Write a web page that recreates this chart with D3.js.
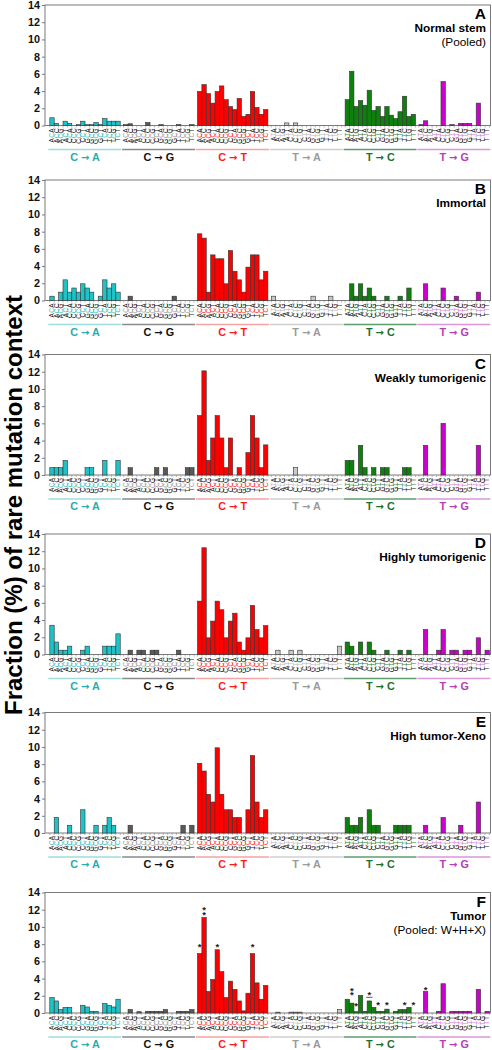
<!DOCTYPE html>
<html><head><meta charset="utf-8">
<script src="https://cdn.jsdelivr.net/npm/d3@7"></script>
<style>
body{margin:0;background:#fff}
svg{display:block}
text{font-family:"Liberation Sans",Arial,Helvetica,sans-serif}
</style>
</head><body>
<svg id="chart" width="492" height="1050"></svg>
<script>
// ---------------- data ----------------
const mutationTypes = ["C → A", "C → G", "C → T", "T → A", "T → C", "T → G"];
const refBase = ["C", "C", "C", "T", "T", "T"];
const flankBases = ["A", "C", "G", "T"];
const yTicks = [0, 2, 4, 6, 8, 10, 12, 14];
const panelLetters = ["A", "B", "C", "D", "E", "F"];
const panelTitles = ["Normal stem", "Immortal", "Weakly tumorigenic", "Highly tumorigenic", "High tumor-Xeno", "Tumor"];
const panelNotes = ["(Pooled)", "", "", "", "", "(Pooled: W+H+X)"];
const yTitle = "Fraction (%) of rare mutation context";

// values: one list of 16 contexts per mutation type (5' base AAAA CCCC GGGG TTTT, 3' base ACGT repeated)
const normalStem = [
  [0.9,0.25,0,0.5,0.25,0,0.1,0.5,0.1,0.1,0.35,0.1,0.8,0.5,0.5,0.5],
  [0.1,0.2,0,0,0,0.35,0,0,0.1,0,0,0,0.1,0,0,0.1],
  [3.95,4.75,3.7,2.6,3.95,4.6,3.0,2.2,1.85,3.15,1.05,1.3,3.95,2.1,1.3,1.85],
  [0,0,0,0.3,0,0.3,0,0,0,0,0,0,0,0,0,0],
  [3.0,6.3,2.2,2.9,2.35,4.1,1.75,2.2,1.05,2.2,1.2,0.8,1.6,3.4,1.05,1.3],
  [0.1,0.55,0,0,0,5.1,0,0.1,0,0.25,0.25,0.25,0,2.6,0,0]
];
const immortal = [
  [0.5,0,0.97,2.4,0.97,1.45,0.97,1.94,1.45,0.97,0,0.5,2.4,1.45,1.94,0.97],
  [0,0.5,0,0,0,0,0,0,0,0,0,0.5,0,0,0,0],
  [7.75,7.25,0.97,5.3,4.85,4.85,1.94,5.8,3.4,2.4,0.97,3.88,5.3,5.3,2.4,3.4],
  [0.5,0,0,0,0,0,0,0,0,0.5,0,0,0,0.5,0,0],
  [0,1.94,0.5,1.94,0.5,1.45,0.5,0,0,0.5,0,0,0.5,0,1.45,0],
  [0,1.94,0,0,0,1.45,0,0,0.5,0,0,0,0,0.97,0,0]
];
const weaklyTumorigenic = [
  [0.85,0.85,0.85,1.7,0,0,0,0,0.85,0.85,0,0,1.7,0,0,1.7],
  [0,0.85,0,0,0,0,0,0.85,0,0.85,0,0,0,0,0.85,0.85],
  [6.9,12.1,1.7,4.3,6.9,4.3,0.85,4.3,0,0.85,0,2.6,6.9,4.3,0.85,3.5],
  [0,0,0,0,0,0.85,0,0,0,0,0,0,0,0,0,0],
  [1.7,1.7,0,3.45,0.85,0,0.85,0,0.85,0.85,0,0,0,0.85,0.85,0],
  [0,3.45,0,0,0,6.0,0,0,0,0,0,0,0,3.45,0,0]
];
const highlyTumorigenic = [
  [3.4,1.45,0.5,0.5,0.97,0,0,0.5,0.97,0,0,0,0.97,0.97,0.97,2.4],
  [0,0.5,0,0.5,0.5,0,0.5,0.5,0,0,0,0,0.5,0,0,0],
  [6.2,12.4,1.94,3.88,6.2,5.2,1.94,3.88,4.8,1.45,0.5,1.94,5.7,2.9,1.94,3.35],
  [0,0.5,0,0,0.5,0,0.5,0,0,0,0,0,0,0,0,0.97],
  [1.45,0.97,0,1.45,0,1.45,0.5,0,0,0.5,0,0,0.5,0,0.5,0],
  [0,2.9,0,0,0.5,2.9,0,0.5,0.5,0,0.5,0.5,0,1.94,0,0.5]
];
const highTumorXeno = [
  [0,1.8,0,0,0.9,0,0,2.7,0,0,0.9,0,0.9,1.8,0.9,0],
  [0,0.9,0,0,0,0,0,0,0,0,0,0,0,0.9,0,0.9],
  [8.1,7.2,4.5,3.6,9.9,4.5,2.7,2.7,1.8,1.8,0,2.7,9.0,3.6,1.8,2.7],
  [0,0,0,0,0,0,0,0,0,0,0,0,0,0,0,0],
  [1.8,0.9,0.9,1.8,0,2.7,0.9,0.9,0,0,0,0.9,0.9,0.9,0.9,0],
  [0,0.9,0,0,0,1.8,0,0,0,0.9,0,0,0,3.6,0,0]
];
const tumorPooled = [
  [1.8,1.4,0.4,0.65,0.65,0,0,0.9,0.7,0.2,0.2,0,1.1,0.9,0.7,1.6],
  [0,0.4,0,0.15,0,0.2,0.2,0.2,0.2,0.4,0,0,0.2,0.2,0.2,0.4],
  [6.9,11.1,2.5,3.9,7.35,4.8,1.8,3.7,2.75,1.4,0.25,2.3,6.9,3.5,1.6,3.2],
  [0,0.1,0,0,0.1,0.1,0.1,0,0,0,0,0,0,0,0,0.4],
  [1.6,1.15,0.15,2.05,0.2,1.4,0.65,0.2,0.2,0.45,0,0.2,0.4,0.4,0.65,0],
  [0,2.5,0,0,0.2,3.4,0,0.2,0.2,0.2,0.2,0.2,0,2.75,0,0.2]
];
const panelValues = [normalStem, immortal, weaklyTumorigenic, highlyTumorigenic, highTumorXeno, tumorPooled];

// significance stars in panel F: type index, context index, level (value at star centre)
const starType  = [2, 2, 2, 2, 2, 4, 4, 4, 4, 4, 4, 4, 4, 5];
const starSlot  = [0, 1, 1, 4, 12, 1, 1, 2, 5, 7, 9, 13, 15, 1];
const starLevel = [7.9, 11.6, 12.2, 7.9, 7.9, 2.3, 2.85, 1.12, 2.3, 1.24, 1.24, 1.24, 1.24, 2.95];
const starBarLine = [4, 5, 1.82]; // type, slot, level

// colours
const barColors   = ["#1ec3c8", "#595959", "#ff0000", "#c8c8c8", "#0d800d", "#cc00cc"];
const labelColors = ["#2aabab", "#111111", "#ff1a1a", "#9a9a9a", "#1a7030", "#b83cb8"];
const lineColors  = ["#9fdcdc", "#8a8a8a", "#f5a3a3", "#cfcfcf", "#5e9c6c", "#d996d9"];
const midColors   = ["#35c0c0", "#a0a0a0", "#ff3030", "#bdbdbd", "#2a8a3a", "#d77ad7"];

// ---------------- layout ----------------
const svg = d3.select("#chart");
const frameL = 45, frameR = 490.5;
const panelTop = [5, 180, 354.5, 534, 712.5, 892.5];
const plotH = 120.5;

const xType = d3.scaleBand().domain(mutationTypes).range([49.8, 489.4]).paddingInner(0.046).paddingOuter(0);
const xCtx = d3.scaleBand().domain(d3.range(16)).range([0, xType.bandwidth()]).padding(0);

// y-axis title
svg.append("text")
  .attr("transform", "translate(21.5,505) rotate(-90)")
  .attr("text-anchor", "middle")
  .attr("font-size", 24).attr("font-weight", "bold").attr("fill", "#000")
  .text(yTitle);

panelValues.forEach((vals, p) => {
  const top = panelTop[p];
  const y = d3.scaleLinear().domain([0, 14]).range([top + plotH, top]);
  const y0 = y(0);
  const g = svg.append("g");

  // frame
  g.append("rect").attr("x", frameL).attr("y", y(14)).attr("width", frameR - frameL).attr("height", y0 - y(14))
    .attr("fill", "none").attr("stroke", "#7a7a7a").attr("stroke-width", 1);

  // y axis
  const ax = g.append("g").attr("transform", `translate(${frameL},0)`)
    .call(d3.axisLeft(y).tickValues(yTicks).tickSize(3).tickPadding(2).tickFormat(d3.format("d")));
  ax.select(".domain").remove();
  ax.selectAll("line").attr("stroke", "#7a7a7a");
  ax.selectAll("text").attr("font-size", 10.8).attr("font-weight", "bold").attr("fill", "#111")
    .attr("font-family", "'Liberation Sans',Arial,sans-serif");

  // bottom small ticks at every context
  mutationTypes.forEach((t) => {
    d3.range(17).forEach(i => {
      const xx = xType(t) + (i < 16 ? xCtx(i) : xType.bandwidth());
      g.append("line").attr("x1", xx).attr("x2", xx).attr("y1", y0).attr("y2", y0 + 2)
        .attr("stroke", "#888").attr("stroke-width", 0.6);
    });
  });

  // bars
  mutationTypes.forEach((t, ti) => {
    g.selectAll(null).data(vals[ti].map((v, i) => ({v, i})).filter(d => d.v > 0)).enter()
      .append("rect")
      .attr("x", d => xType(t) + xCtx(d.i))
      .attr("y", d => y(d.v))
      .attr("width", xCtx.bandwidth())
      .attr("height", d => y0 - y(d.v))
      .attr("fill", barColors[ti]).attr("stroke", "#333").attr("stroke-width", 0.6);
  });

  // context labels (rotated trinucleotides)
  mutationTypes.forEach((t, ti) => {
    d3.range(16).forEach(i => {
      const five = flankBases[Math.floor(i / 4)], three = flankBases[i % 4];
      const cx = xType(t) + xCtx(i) + xCtx.bandwidth() / 2;
      const tx = g.append("text")
        .attr("transform", `translate(${cx + 2.3},${y0 + 2.5}) rotate(-90)`)
        .attr("text-anchor", "end").attr("font-size", 6.5).attr("letter-spacing", 0.4);
      tx.append("tspan").attr("fill", "#1a1a1a").text(five);
      tx.append("tspan").attr("fill", midColors[ti]).text(refBase[ti]);
      tx.append("tspan").attr("fill", "#1a1a1a").text(three);
    });
    // underline and group label
    g.append("line").attr("x1", xType(t) - 1.5).attr("x2", xType(t) + xType.bandwidth() + 1)
      .attr("y1", y0 + 24).attr("y2", y0 + 24).attr("stroke", lineColors[ti]).attr("stroke-width", 1.6);
    const parts = t.split(" → ");
    const lab = g.append("text").attr("x", xType(t) + xType.bandwidth() / 2).attr("y", y0 + 35)
      .attr("text-anchor", "middle").attr("font-size", 10.8).attr("font-weight", "bold")
      .attr("fill", labelColors[ti]);
    lab.append("tspan").text(parts[0] + " ");
    lab.append("tspan").attr("font-family", "'DejaVu Sans',sans-serif").attr("font-size", 10).text("→");
    lab.append("tspan").text(" " + parts[1]);
  });

  // panel letter and titles
  g.append("text").attr("x", 486).attr("y", top + 14).attr("text-anchor", "end")
    .attr("font-size", 15.5).attr("font-weight", "bold").text(panelLetters[p]);
  g.append("text").attr("x", 486).attr("y", top + 27).attr("text-anchor", "end")
    .attr("font-size", 11.8).attr("font-weight", "bold").text(panelTitles[p]);
  if (panelNotes[p]) {
    g.append("text").attr("x", 486).attr("y", top + 41).attr("text-anchor", "end")
      .attr("font-size", 11.8).text(panelNotes[p]);
  }

  // stars (panel F)
  if (p === 5) {
    starType.forEach((ti, k) => {
      const cx = xType(mutationTypes[ti]) + xCtx(starSlot[k]) + xCtx.bandwidth() / 2;
      g.append("text").attr("x", cx).attr("y", y(starLevel[k]) + 5.2).attr("text-anchor", "middle")
        .attr("font-size", 9.5).attr("font-weight", "bold").attr("fill", "#222").text("*");
    });
    const [lt, ls, lv] = starBarLine;
    const lx = xType(mutationTypes[lt]) + xCtx(ls);
    g.append("line").attr("x1", lx - 1).attr("x2", lx + xCtx.bandwidth() + 1)
      .attr("y1", y(lv)).attr("y2", y(lv)).attr("stroke", "#333").attr("stroke-width", 0.8);
  }
});
</script>
</body></html>
